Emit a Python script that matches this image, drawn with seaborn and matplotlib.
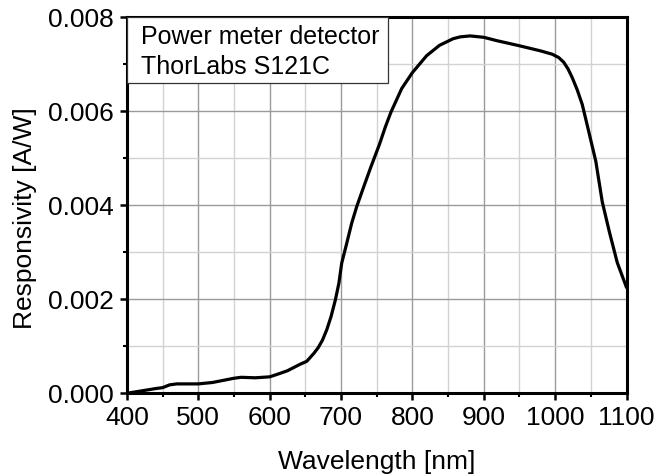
import numpy as np
import pandas as pd
import matplotlib
matplotlib.use("Agg")
import matplotlib.pyplot as plt
import seaborn as sns
from matplotlib.patches import Rectangle
from matplotlib.ticker import MultipleLocator, FormatStrFormatter

wavelength = [400, 420, 440, 450, 460, 470, 500, 520, 530, 550, 560, 580, 600, 610, 625,
              643, 652, 662, 668, 674, 680, 686, 692, 697, 701, 708, 715, 722, 732, 742,
              754, 762, 770, 785, 800, 820, 838, 857, 867, 881, 900, 918, 950, 980, 996,
              1005, 1012, 1018, 1024, 1031, 1038, 1047, 1057, 1066, 1076, 1087, 1100]
responsivity = [0.0, 0.00005, 0.0001, 0.00012, 0.00018, 0.0002, 0.0002, 0.00023, 0.00026,
                0.00032, 0.00034, 0.00033, 0.00035, 0.0004, 0.00048,
                0.00062, 0.00068, 0.00085, 0.00097, 0.00113, 0.00135, 0.00163, 0.00198,
                0.00234, 0.00277, 0.00319, 0.00362, 0.00397, 0.0044, 0.00482,
                0.0053, 0.00566, 0.00598, 0.00648, 0.00682, 0.00718, 0.0074, 0.00754,
                0.00758, 0.0076, 0.00757, 0.0075, 0.00739, 0.00728, 0.00721,
                0.00714, 0.00704, 0.0069, 0.00671, 0.00645, 0.00614, 0.00557, 0.00493,
                0.00407, 0.00343, 0.00278, 0.00225]
xticks = [400, 500, 600, 700, 800, 900, 1000, 1100]
yticks = [0.000, 0.002, 0.004, 0.006, 0.008]
info_lines = ["Power meter detector", "ThorLabs S121C"]

df = pd.DataFrame({"Wavelength": wavelength, "Responsivity": responsivity})

sns.set_style("ticks")
plt.rcParams["font.family"] = ["Liberation Sans", "DejaVu Sans"]
plt.rcParams["text.color"] = "black"
plt.rcParams["axes.labelcolor"] = "black"
plt.rcParams["xtick.color"] = "black"
plt.rcParams["ytick.color"] = "black"

fig = plt.figure(figsize=(6.54, 4.75), dpi=100)
ax = fig.add_axes([0.194, 0.172, 0.764, 0.792])

ax.xaxis.set_minor_locator(MultipleLocator(50))
ax.yaxis.set_minor_locator(MultipleLocator(0.001))
ax.grid(which="major", color="#9a9a9a", lw=1.0)
ax.grid(which="minor", color="#d2d2d2", lw=1.0)
ax.set_axisbelow(True)

sns.lineplot(data=df, x="Wavelength", y="Responsivity", ax=ax, color="black", lw=2.3)

ax.set_xlim(400, 1100)
ax.set_ylim(0, 0.008)
ax.set_xticks(xticks)
ax.set_yticks(yticks)
ax.yaxis.set_major_formatter(FormatStrFormatter("%.3f"))
ax.tick_params(which="major", direction="out", length=5, width=1.8, labelsize=19, colors="black")
ax.tick_params(axis="x", which="major", pad=4)
ax.tick_params(axis="y", which="major", pad=4.5)
ax.tick_params(which="minor", direction="out", length=3, width=1.5)
for s in ax.spines.values():
    s.set_visible(True)
    s.set_linewidth(2.2)
    s.set_color("black")

ax.set_xlabel("Wavelength [nm]", fontsize=19)
ax.set_ylabel("Responsivity [A/W]", fontsize=19)
ax.xaxis.set_label_coords(0.5, -0.151)
ax.yaxis.set_label_coords(-0.18, 0.466)

ax.add_patch(Rectangle((0.0, 0.8246), 0.523, 0.1754, transform=ax.transAxes,
                       fc="white", ec="#333333", lw=0.9, zorder=5))
ax.text(0.028, 0.947, info_lines[0], transform=ax.transAxes, fontsize=18, va="center", ha="left", zorder=6)
ax.text(0.028, 0.867, info_lines[1], transform=ax.transAxes, fontsize=18, va="center", ha="left", zorder=6)

fig.savefig("out.png", dpi=100)
